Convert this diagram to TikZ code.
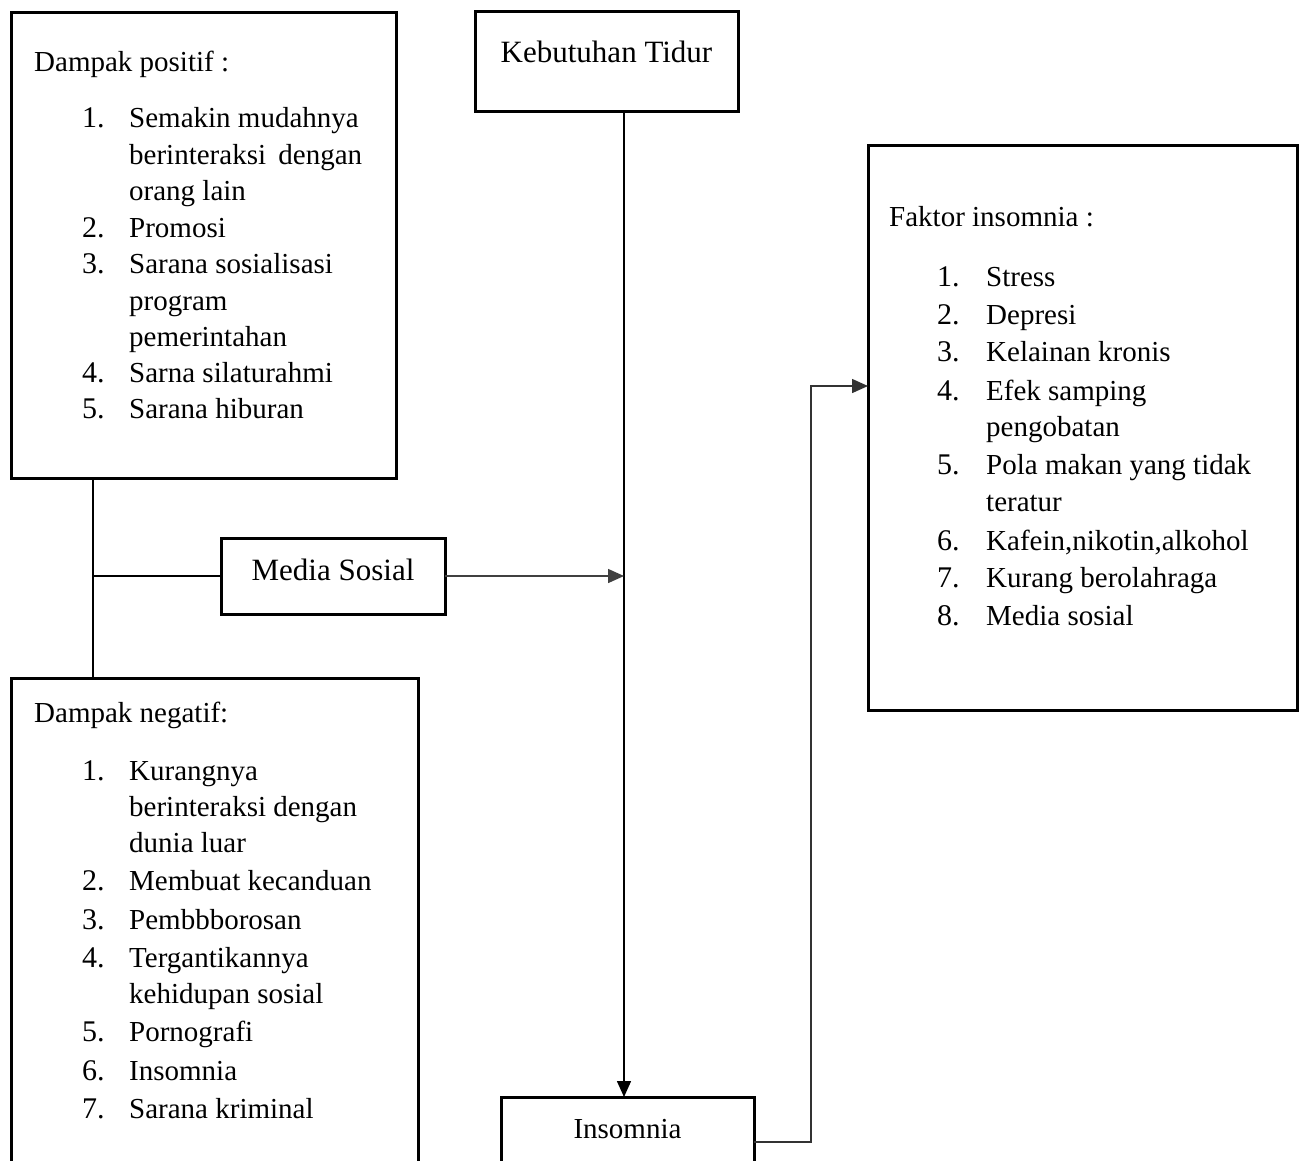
\documentclass[tikz,border=0pt]{standalone}
\usepackage{fontspec}
\setmainfont{Liberation Serif}
\usetikzlibrary{arrows.meta}
\begin{document}
\begin{tikzpicture}[x=1pt,y=-1pt,
  box/.style={draw,line width=3pt,rectangle,inner sep=0pt,outer sep=0pt,anchor=north west},
  txt/.style={anchor=base west,inner sep=0pt,font=\fontsize{29}{35}\selectfont},
  num/.style={anchor=base west,inner sep=0pt,font=\fontsize{30}{35}\selectfont},
  ctxt/.style={anchor=base,inner sep=0pt,font=\fontsize{29}{35}\selectfont},
  bigtxt/.style={anchor=base,inner sep=0pt,font=\fontsize{31}{37}\selectfont},
  link/.style={line width=1.5pt},
  arr/.style={link,-{Triangle[length=16pt,width=14pt]}}]
\clip (0,0) rectangle (1300,1160);
\fill[white] (0,0) rectangle (1300,1160);
% boxes
\node[box,minimum width=385pt,minimum height=466pt] (pos) at (11,12) {};
\node[box,minimum width=263pt,minimum height=100pt] (keb) at (475,11) {};
\node[box,minimum width=224pt,minimum height=76pt] (med) at (221,538) {};
\node[box,minimum width=253pt,minimum height=120pt] (ins) at (501,1097) {};
\node[box,minimum width=429pt,minimum height=565pt] (fak) at (868,145) {};
\node[box,minimum width=407pt,minimum height=520pt] (neg) at (11,678) {};
% titles
\node[bigtxt] (kebt) at ([yshift=-51pt]keb.north) {Kebutuhan Tidur};
\node[bigtxt] (medt) at ([yshift=-42pt]med.north) {Media Sosial};
\node[ctxt] (inst) at ([yshift=-41pt]ins.north) {Insomnia};
\node[txt] (post) at (34,71) {Dampak positif :};
\node[txt] (fakt) at (889,226) {Faktor insomnia :};
\node[txt] (negt) at (34,722) {Dampak negatif:};
% positive list
\foreach \y/\s [count=\i] in {127/1., 237/2., 273/3., 382/4., 418/5.}
  \node[num] (pn\i) at (82,\y) {\s};
\foreach \y/\s [count=\i] in {127/{Semakin mudahnya}, 164/{\makebox[233pt][s]{berinteraksi dengan}}, 200/{orang lain}, 237/{Promosi}, 273/{Sarana sosialisasi}, 310/{program}, 346/{pemerintahan}, 382/{Sarna silaturahmi}, 418/{Sarana hiburan}}
  \node[txt] (pl\i) at (129,\y) {\s};
% faktor list
\foreach \y/\s [count=\i] in {286/1., 324/2., 361/3., 400/4., 474/5., 550/6., 587/7., 625/8.}
  \node[num] (fn\i) at (937,\y) {\s};
\foreach \y/\s [count=\i] in {286/{Stress}, 324/{Depresi}, 361/{Kelainan kronis}, 400/{Efek samping}, 436/{pengobatan}, 474/{Pola makan yang tidak}, 511/{teratur}, 550/{Kafein,nikotin,alkohol}, 587/{Kurang berolahraga}, 625/{Media sosial}}
  \node[txt] (fl\i) at (986,\y) {\s};
% negative list
\foreach \y/\s [count=\i] in {780/1., 890/2., 929/3., 967/4., 1041/5., 1080/6., 1118/7.}
  \node[num] (nn\i) at (82,\y) {\s};
\foreach \y/\s [count=\i] in {780/{Kurangnya}, 816/{berinteraksi dengan}, 852/{dunia luar}, 890/{Membuat kecanduan}, 929/{Pembbborosan}, 967/{Tergantikannya}, 1003/{kehidupan sosial}, 1041/{Pornografi}, 1080/{Insomnia}, 1118/{Sarana kriminal}}
  \node[txt] (nl\i) at (129,\y) {\s};
% connectors
\coordinate (trunk) at ([xshift=82pt]pos.south west);
\draw[link,line width=1.8pt] (trunk) -- (trunk |- neg.north);
\draw[link,line width=1.8pt] (trunk |- med.west) -- (med.west);
\coordinate (kb) at ([xshift=17.5pt]keb.south);
\draw[arr] (kb) -- (kb |- ins.north);
\draw[arr,draw=black!75] (med.east) -- (med.east -| kb);
\coordinate (ie) at ([yshift=-45pt]ins.north east);
\coordinate (fa) at ([yshift=-241pt]fak.north west);
\draw[arr,draw=black!80] (ie) -- ++(57,0) |- (fa);
\end{tikzpicture}
\end{document}
